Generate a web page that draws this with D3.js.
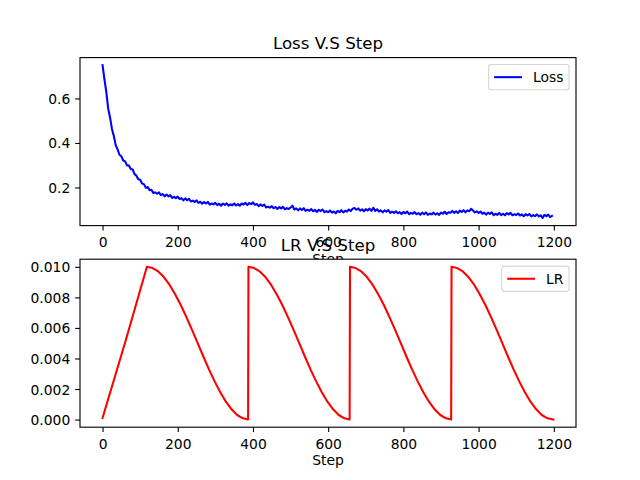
<!DOCTYPE html>
<html><head><meta charset="utf-8">
<script src="https://cdn.jsdelivr.net/npm/d3@7"></script>
<style>body{margin:0;background:#fff} svg{display:block} text{font-family:"DejaVu Sans",sans-serif}</style>
</head><body><svg id="c" width="640" height="480"></svg>
<script>
// ---------------- data ----------------
const lossEvery = 5; // loss recorded every 5 steps
const lossValues = [
0.749,0.686,0.629,0.554,0.514,0.463,0.431,0.390,0.371,0.347,
0.340,0.321,0.317,0.299,0.299,0.283,0.281,0.260,0.253,0.237,
0.235,0.218,0.215,0.199,0.202,0.188,0.190,0.175,0.178,0.172,
0.178,0.166,0.170,0.160,0.168,0.160,0.166,0.153,0.158,0.152,
0.159,0.148,0.152,0.142,0.151,0.143,0.149,0.137,0.141,0.135,
0.142,0.131,0.136,0.127,0.135,0.128,0.135,0.123,0.128,0.124,
0.131,0.121,0.127,0.118,0.128,0.122,0.129,0.118,0.124,0.120,
0.128,0.119,0.125,0.118,0.128,0.123,0.131,0.121,0.130,0.125,
0.133,0.122,0.126,0.116,0.124,0.117,0.123,0.110,0.114,0.109,
0.116,0.107,0.112,0.103,0.112,0.106,0.113,0.102,0.107,0.103,
0.110,0.118,0.101,0.106,0.097,0.106,0.099,0.107,0.095,0.100,
0.095,0.103,0.093,0.099,0.090,0.100,0.094,0.101,0.089,0.094,
0.089,0.097,0.087,0.092,0.084,0.095,0.089,0.098,0.088,0.095,
0.092,0.101,0.094,0.105,0.108,0.100,0.106,0.096,0.102,0.093,
0.103,0.097,0.105,0.095,0.109,0.095,0.102,0.092,0.097,0.088,
0.097,0.091,0.098,0.086,0.091,0.086,0.093,0.084,0.089,0.081,
0.090,0.084,0.092,0.080,0.086,0.082,0.089,0.080,0.085,0.077,
0.087,0.080,0.088,0.077,0.083,0.079,0.087,0.078,0.084,0.077,
0.087,0.082,0.091,0.081,0.089,0.086,0.095,0.086,0.093,0.085,
0.096,0.090,0.098,0.088,0.097,0.093,0.104,0.096,0.088,0.093,
0.085,0.092,0.082,0.087,0.078,0.087,0.081,0.088,0.076,0.082,
0.077,0.085,0.076,0.082,0.075,0.085,0.079,0.086,0.075,0.080,
0.076,0.083,0.074,0.079,0.071,0.080,0.074,0.081,0.070,0.076,
0.071,0.079,0.070,0.075,0.063,0.077,0.071,0.078,0.067,0.072
];
const lrSteps = [
0,60,118,
133,148,163,178,193,208,223,238,253,268,283,298,313,328,343,358,373,387,
388,403,418,433,448,463,478,493,508,523,538,553,568,583,598,613,628,643,657,
658,673,688,703,718,733,748,763,778,793,808,823,838,853,868,883,898,913,927,
928,943,958,973,988,1003,1018,1033,1048,1063,1078,1093,1108,1123,1138,1153,1168,1183,1199
];
const lrValues = [
0.0001,0.00505,
0.01,0.00992,0.0097,0.00933,0.00883,0.00821,0.0075,0.00671,0.00587,0.005,0.00413,0.00329,0.0025,0.00179,0.00117,0.00067,0.0003,0.00008,0,
0.01,0.00992,0.0097,0.00933,0.00883,0.00821,0.0075,0.00671,0.00587,0.005,0.00413,0.00329,0.0025,0.00179,0.00117,0.00067,0.0003,0.00008,0,
0.01,0.00992,0.0097,0.00933,0.00883,0.00821,0.0075,0.00671,0.00587,0.005,0.00413,0.00329,0.0025,0.00179,0.00117,0.00067,0.0003,0.00008,0,
0.01,0.00992,0.0097,0.00933,0.00883,0.00821,0.0075,0.00671,0.00587,0.005,0.00413,0.00329,0.0025,0.00179,0.00117,0.00067,0.0003,0.00008,0
];
const xTicks = [0,200,400,600,800,1000,1200];
const lossTicks = [0.2,0.4,0.6];
const lrTicks = [0,0.002,0.004,0.006,0.008,0.010];

const lossData = lossValues.map((v,i)=>({x:i*lossEvery,y:v}));
const lrData = lrSteps.map((s,i)=>({x:s,y:lrValues[i]}));

// ---------------- layout ----------------
const svg = d3.select("#c");
svg.append("rect").attr("width",640).attr("height",480).attr("fill","#fff");
const L=80, R=576, FS=13.89, TICK=4.86;

function pad(ext){const d=(ext[1]-ext[0])*0.05;return [ext[0]-d,ext[1]+d];}
const xAll = d3.extent(lossData.concat(lrData), d=>d.x);
const x = d3.scaleLinear().domain(pad(xAll)).range([L,R]);

function panel(cfg){
  const g = svg.append("g");
  const y = d3.scaleLinear().domain(pad(d3.extent(cfg.data,d=>d.y))).range([cfg.bottom,cfg.top]);
  g.append("rect").attr("x",L).attr("y",cfg.top).attr("width",R-L).attr("height",cfg.bottom-cfg.top).attr("fill","#fff");
  g.append("path").datum(cfg.data)
    .attr("d", d3.line().x(d=>x(d.x)).y(d=>y(d.y)))
    .attr("fill","none").attr("stroke",cfg.color).attr("stroke-width",2.08)
    .attr("stroke-linejoin","round").attr("stroke-linecap","square");
  // axes
  const xa = g.append("g").attr("transform",`translate(0,${cfg.bottom})`)
    .call(d3.axisBottom(x).tickValues(xTicks).tickSize(TICK).tickPadding(6.8).tickFormat(d3.format("d")));
  const ya = g.append("g").attr("transform",`translate(${L},0)`)
    .call(d3.axisLeft(y).tickValues(cfg.ticks).tickSize(TICK).tickPadding(4.86).tickFormat(d3.format(cfg.fmt)));
  [xa,ya].forEach(a=>{
    a.select(".domain").remove();
    a.selectAll("line").attr("stroke","#000").attr("stroke-width",1.11);
    a.selectAll("text").attr("font-size",FS).attr("fill","#000").attr("font-family","DejaVu Sans");
  });
  ya.selectAll("text").attr("dy","0.36em");
  // spines
  g.append("rect").attr("x",L).attr("y",cfg.top).attr("width",R-L).attr("height",cfg.bottom-cfg.top)
    .attr("fill","none").attr("stroke","#000").attr("stroke-width",1.11);
  // legend
  const lg = g.append("g");
  const lt = lg.append("text").text(cfg.name).attr("font-size",FS).attr("fill","#000");
  const tw = lt.node().getComputedTextLength();
  const bp=5.56, hl=27.8, hp=11.1, bh=25.2;
  const bw = bp*2+hl+hp+tw;
  const bx = R-6.95-bw, by = cfg.top+6.95;
  lg.insert("rect","text").attr("x",bx).attr("y",by).attr("width",bw).attr("height",bh)
    .attr("rx",2.8).attr("fill","#fff").attr("fill-opacity",0.8)
    .attr("stroke","#ccc").attr("stroke-opacity",0.8).attr("stroke-width",1.11);
  lg.insert("line","text").attr("x1",bx+bp).attr("x2",bx+bp+hl).attr("y1",by+bh/2).attr("y2",by+bh/2)
    .attr("stroke",cfg.color).attr("stroke-width",2.08);
  lt.attr("x",bx+bp+hl+hp).attr("y",by+bh/2+5);
  // title
  g.append("text").attr("x",(L+R)/2).attr("y",cfg.top-8.33).attr("text-anchor","middle")
    .attr("font-size",16.67).attr("fill","#000").text(cfg.title);
  // xlabel
  g.append("text").attr("x",(L+R)/2).attr("y",cfg.bottom+38).attr("text-anchor","middle")
    .attr("font-size",FS).attr("fill","#000").text("Step");
}

panel({data:lossData,top:57.6,bottom:225.6,color:"#0000ff",ticks:lossTicks,fmt:".1f",name:"Loss",title:"Loss V.S Step"});
panel({data:lrData,top:259.2,bottom:427.2,color:"#ff0000",ticks:lrTicks,fmt:".3f",name:"LR",title:"LR V.S Step"});
</script></body></html>
